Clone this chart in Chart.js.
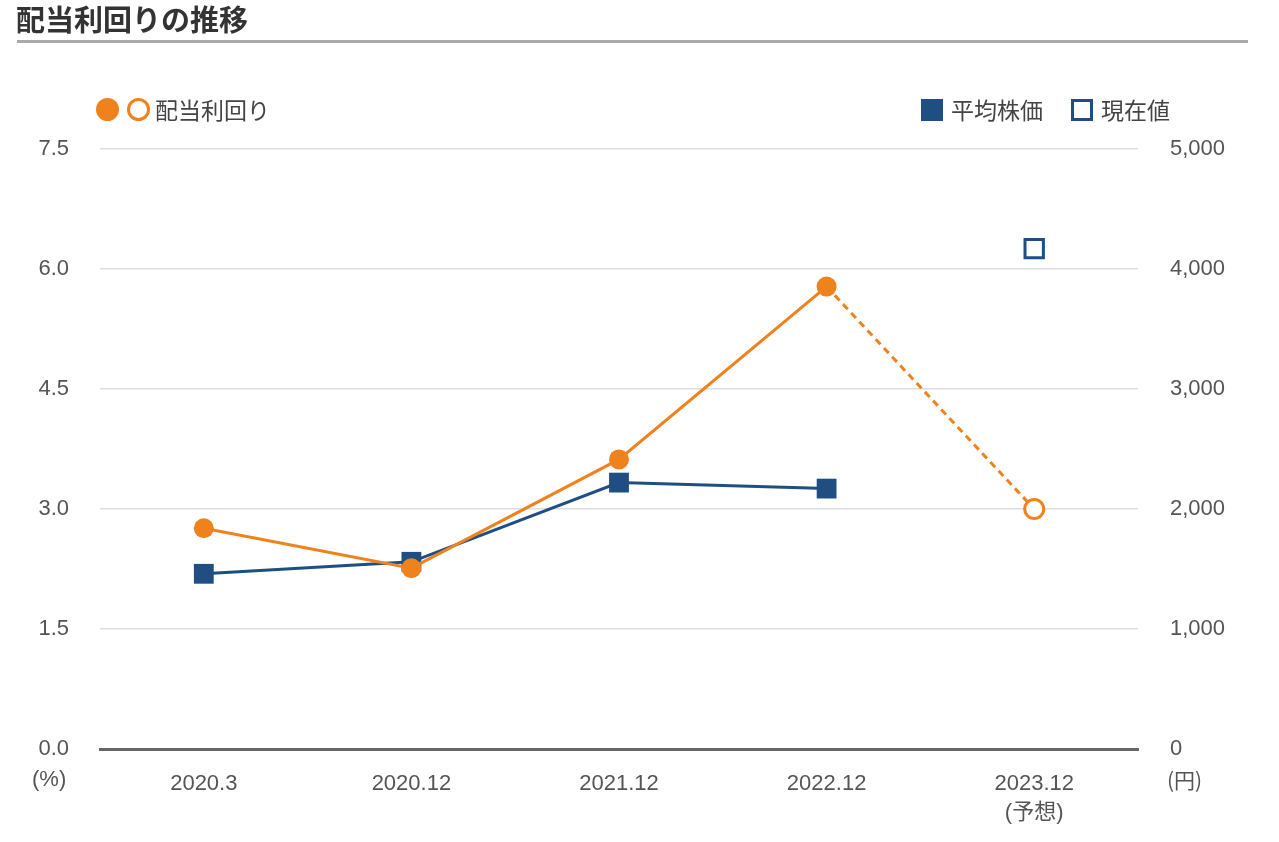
<!DOCTYPE html>
<html lang="ja">
<head>
<meta charset="utf-8">
<script src="https://cdn.jsdelivr.net/npm/chart.js@4"></script>
<style>
  body { margin: 0; background: #fff; font-family: "Liberation Sans", "Noto Sans CJK JP", sans-serif; }
  #wrap { position: relative; width: 1279px; height: 842px; overflow: hidden; }
  #c { position: absolute; left: 0; top: 0; }
  .abs { position: absolute; white-space: nowrap; color: #444; }
  #title { left: 16px; top: 0px; font-size: 29px; font-weight: bold; color: #333; font-family: "Noto Sans CJK JP", sans-serif; line-height: 36px; }
  #rule { left: 17px; top: 40px; width: 1231px; height: 3px; background: #aaa; }
  .lg { font-size: 23px; font-family: "Noto Sans CJK JP", sans-serif; line-height: 26px; top: 96px; }
  .dot { position: absolute; box-sizing: border-box; }
  .unit { font-size: 22px; top: 766px; color: #555; }
</style>
</head>
<body>
<div id="wrap">
  <canvas id="c" width="1279" height="842"></canvas>
  <div class="abs" id="title">配当利回りの推移</div>
  <div class="abs" id="rule"></div>

  <div class="dot" style="left:96px;top:98px;width:23px;height:23px;border-radius:50%;background:#f0821e;"></div>
  <div class="dot" style="left:127px;top:98px;width:23px;height:23px;border-radius:50%;border:3px solid #f0821e;background:#fff;"></div>
  <div class="abs lg" style="left:155px;">配当利回り</div>

  <div class="dot" style="left:921px;top:99px;width:22px;height:22px;background:#1f4e82;"></div>
  <div class="abs lg" style="left:951px;">平均株価</div>
  <div class="dot" style="left:1071px;top:99px;width:22px;height:22px;border:3px solid #1f4e82;background:#fff;"></div>
  <div class="abs lg" style="left:1101px;">現在値</div>

  <div class="abs unit" style="left:32px;">(%)</div>
  <div class="abs unit" style="left:1167px;font-family:'Noto Sans CJK JP',sans-serif;font-size:21px;top:764px;">(円)</div>
</div>
<script>
// chart data
const categories = ['2020.3', '2020.12', '2021.12', '2022.12', ['2023.12', '(予想)']];
const yieldValues = [2.76, 2.26, 3.62, 5.78, 3.0];   // 配当利回り (%), last one is forecast
const priceValues = [1460, 1560, 2220, 2170, null];  // 平均株価 (円)
const currentValues = [null, null, null, null, 4170]; // 現在値 (円)
const yieldTicks = [0, 1.5, 3.0, 4.5, 6.0, 7.5];

const ORANGE = '#f0821e';
const BLUE = '#1f4e82';
const tickFont = { family: '"Liberation Sans", "Noto Sans CJK JP", sans-serif', size: 22, lineHeight: 1.3 };

new Chart(document.getElementById('c'), {
    type: 'line',
    data: {
        labels: categories,
        datasets: [
            {
                label: '配当利回り',
                data: yieldValues,
                yAxisID: 'y',
                borderColor: ORANGE,
                borderWidth: 3,
                pointStyle: 'circle',
                pointRadius: [10, 10, 10, 10, 9.5],
                pointBorderWidth: [0, 0, 0, 0, 3],
                pointBorderColor: ORANGE,
                pointBackgroundColor: [ORANGE, ORANGE, ORANGE, ORANGE, '#fff'],
                segment: {
                    borderDash: ctx => ctx.p1DataIndex === 4 ? [7, 5] : undefined
                }
            },
            {
                label: '平均株価',
                data: priceValues,
                yAxisID: 'y1',
                borderColor: BLUE,
                borderWidth: 3,
                pointStyle: 'rect',
                pointRadius: 14,
                pointBorderWidth: 0,
                pointBackgroundColor: BLUE
            },
            {
                label: '現在値',
                data: currentValues,
                yAxisID: 'y1',
                showLine: false,
                pointStyle: 'rect',
                pointRadius: 13,
                pointBorderWidth: 3,
                pointBorderColor: BLUE,
                pointBackgroundColor: '#fff'
            }
        ]
    },
    options: {
        responsive: false,
        animation: false,
        layout: { padding: { top: 149, left: 0, right: 0, bottom: 0 } },
        plugins: {
            legend: { display: false },
            tooltip: { enabled: false }
        },
        scales: {
            x: {
                offset: true,
                grid: { display: false, drawTicks: false },
                border: { color: '#666', width: 3 },
                ticks: { color: '#555', font: tickFont, padding: 21, maxRotation: 0 },
                afterFit: s => { s.height = 93; }
            },
            y: {
                position: 'left',
                min: 0,
                max: 7.5,
                afterBuildTicks: s => { s.ticks = yieldTicks.map(v => ({ value: v })); },
                grid: { color: '#dddddd', lineWidth: 1.5, drawTicks: false },
                border: { display: false },
                ticks: {
                    color: '#555',
                    font: tickFont,
                    padding: 31,
                    callback: v => v.toFixed(1)
                },
                afterFit: s => { s.width = 100; }
            },
            y1: {
                position: 'right',
                min: 0,
                max: 5000,
                grid: { display: false, drawTicks: false },
                border: { display: false },
                ticks: {
                    stepSize: 1000,
                    color: '#555',
                    font: tickFont,
                    padding: 32,
                    callback: v => v.toLocaleString('en-US')
                },
                afterFit: s => { s.width = 141; }
            }
        }
    }
});
</script>
</body>
</html>
